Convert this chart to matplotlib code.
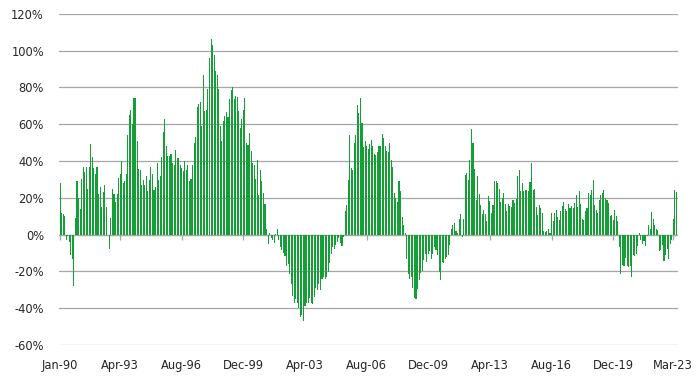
import matplotlib
matplotlib.use('Agg')
import matplotlib.pyplot as plt
import numpy as np
import pandas as pd

# Monthly year-on-year change (%), Jan-90 onwards
growth = [
    28, 12, 11, 10, -3, -1, -4, -11, -13, -28, 9, 29, 20, 14, 30, 37, 34, 37, 25, 37,
    49, 42, 36, 33, 37, 22, 26, 15, 23, 27, 15, 0, -8, 9, 25, 22,
    18, 22, 31, 33, 40, 28, 29, 33, 54, 65, 68, 60, 74, 74.5, 51, 35.5, 35, 27, 29.5, 27,
    32, 23.5, 29.5, 37, 33, 24.5, 26, 39, 29.5, 32, 42, 56, 63, 48, 43, 43, 44, 39, 37.7, 46, 41.7,
    41.5, 37.7, 36, 34.4, 40, 35, 37.7, 29, 30.4, 38, 50, 53, 69.4, 71.2, 72, 59, 87, 67, 67.6, 79.3,
    96, 106.5, 103, 97.5, 88.8, 87, 79, 59, 51, 62, 64.3, 66.5, 63.8, 73.6, 78.4, 80, 73.6, 75.5, 74.8, 67, 58,
    62.7, 68, 74, 50, 48.5, 55.4, 45.3, 39, 38, 30.4, 40.4, 21.4, 35, 29, 22.5, 16.5, 2.9, -4.9, 1, -1.8,
    -2.7, -4.5, 0.5, 2.9, -2.7, -6.7, -8.2, -10, -11.8, -17.2, -15.8, -21.6, -27, -33.3, -37.1, -34.8, -37.1, -39.7, -44.7, -43.5,
    -47, -39, -37, -37, -34.2, -37, -37.9, -34, -29, -30, -27, -30, -24, -23, -24.3, -23, -20.3, -15.2, -10.3, -6.7,
    -8, -5.8, -4.2, -1.8, -4.3, -6, -1.3, 12.7, 16.3, 29.5, 54, 36.4, 35.3, 49.8, 54.3, 70.3, 66.3, 74, 60.7, 47.6,
    50.7, 48, 46.7, 49, 51.3, 48, 44, 43.5, 45, 48, 48, 54.5, 52.7, 48, 45.5, 45, 50, 40.4, 37, 22.8,
    20, 17.6, 29, 23.5, 9.6, 5.4, 0.9, -13.4, -21.2, -24, -23, -29, -34.4, -35, -29.3, -24.8, -20.8, -20, -14, -10.7,
    -14.9, -10.3, -8.9, -13, -10.3, -6.7, -8.5, -11.2, -20.3, -24.8, -14.9, -15.4, -13, -12.1, -11.2, -5.8, 3.3, 5, 6.3, 1.8,
    0.9, 8.7, 11.4, -1.3, 8.3, 32.2, 33.7, 29.5, 40.4, 57.2, 50, 35.9, 19, 31.7, 22.3, 16, 11, 13.6, 11.4, 7.2, 20.8,
    18.3, 12, 16, 29, 29, 28.3, 25, 18, 20, 22.5, 16.5, 12.7, 16.5, 15.4, 15, 18.7, 17.4, 19.6, 31.9, 35,
    23.9, 28, 23.9, 24.5, 24, 23.5, 28.6, 39.1, 24, 25, 15, 10.5, 16, 14.7, 11.8, 2, 1.4, 2, 2.9, 0.9, 11.8,
    7.4, 12, 13.2, 9.6, 8.2, 12.7, 15.6, 17.8, 14.1, 12.7, 16.8, 14.7, 15.6, 14.7, 17.4, 21.4, 15, 23.5, 16.8, 8.7,
    8.2, 12.7, 14.7, 22.8, 21.4, 24.5, 29.9, 16.3, 13.6, 12, 19, 21.4, 22.8, 24.5, 20.1, 18.7, 17.4, 10.1, 10.9, 8.2,
    13.2, 10, 7.2, -6.7, -21.2, -16.7, -17.2, -12.5, -17.2, -17.6, -17.2, -23, -10.9, -11.8, -10.3, -6, 0.9, -2.7, -4.9, -3.4,
    -6.3, -0.9, 5, 3.3, 12.3, 8.7, 5, 2.9, 2.4, -8.9, -8.2, -5.8, -14.3, -10.9, -7.6, -13, -4.9, -3.1, 8.3, 24, 23,
]

months = pd.date_range('1990-01-01', periods=len(growth), freq='MS').strftime('%b-%y').tolist()
tick_labels = ['Jan-90', 'Apr-93', 'Aug-96', 'Dec-99', 'Apr-03', 'Aug-06',
               'Dec-09', 'Apr-13', 'Aug-16', 'Dec-19', 'Mar-23']
y_ticks = [-60, -40, -20, 0, 20, 40, 60, 80, 100, 120]

plt.rcParams['font.family'] = ['DejaVu Sans']

fig = plt.figure(figsize=(6.99, 3.78), dpi=100)
ax = fig.add_axes([0.0848, 0.0873, 0.885, 0.876])

x = np.arange(len(growth))
ax.bar(x, growth, width=0.7, color='#149e36', edgecolor='none', zorder=3)

# gridlines and zero line
ax.set_ylim(-60, 120)
ax.set_xlim(-0.5, 401)
ax.set_yticks(y_ticks)
ax.set_yticklabels([f'{v}%' for v in y_ticks])
ax.grid(axis='y', color='#a6a6a6', linewidth=0.9)
ax.set_axisbelow(True)
ax.axhline(0, color='#a6a6a6', linewidth=0.9, zorder=2)
for s in ax.spines.values():
    s.set_visible(False)

# small tick marks hanging below the zero line
tick_pos = [months.index(t) for t in tick_labels]
ax.vlines(tick_pos, -2.8, 0, color='#a6a6a6', linewidth=0.9, zorder=2)

ax.set_xticks(tick_pos)
ax.set_xticklabels(tick_labels)
ax.tick_params(axis='x', length=0, pad=10, labelsize=8.3, colors='#262626')
ax.tick_params(axis='y', length=0, pad=11, labelsize=8.3, colors='#262626')

fig.savefig('out.png', dpi=100)
